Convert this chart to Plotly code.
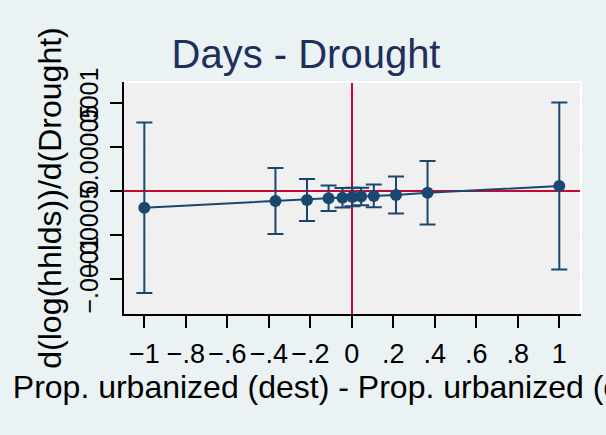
import plotly.graph_objects as go

# Binned difference in urbanization share (destination minus origin)
urb_diff = [-1.0, -0.368, -0.216, -0.112, -0.045, 0.003, 0.045, 0.106, 0.213, 0.365, 1.0]
# Estimated marginal effect d(log(hhlds))/d(Drought)
coef = [-0.0000193, -0.0000117, -0.0000106, -0.0000086, -0.0000080, -0.0000072,
        -0.0000066, -0.0000060, -0.0000049, -0.0000023, 0.0000053]
# Half-width of the confidence interval
ci_half = [0.0000968, 0.0000375, 0.0000239, 0.0000146, 0.0000110, 0.0000105,
           0.0000100, 0.0000129, 0.0000210, 0.0000360, 0.0000949]

x_tickvals = [-1, -0.8, -0.6, -0.4, -0.2, 0, 0.2, 0.4, 0.6, 0.8, 1]
x_ticktext = ["\u22121", "\u2212.8", "\u2212.6", "\u2212.4", "\u2212.2", "0", ".2", ".4", ".6", ".8", "1"]
y_tickvals = [-0.0001, -0.00005, 0, 0.00005, 0.0001]
y_ticktext = ["\u2212.0001", "\u2212.00005", "0", ".00005", ".0001"]

NAVY = "#1A476F"
RED = "#C40A32"
FONT = "Liberation Sans, Arial, sans-serif"

fig = go.Figure()
fig.add_trace(go.Scatter(
    x=urb_diff, y=coef, mode="lines+markers",
    line=dict(color=NAVY, width=2),
    marker=dict(color=NAVY, size=12),
    error_y=dict(type="data", array=ci_half, visible=True,
                 color=NAVY, thickness=2, width=8),
    showlegend=False, hoverinfo="skip",
))

# White frame on top and right of the plot region
fig.add_shape(type="line", xref="x domain", yref="y domain", x0=0, x1=1, y0=1, y1=1,
              line=dict(color="white", width=2))
fig.add_shape(type="line", xref="x domain", yref="y domain", x0=1, x1=1, y0=0, y1=1,
              line=dict(color="white", width=2))

fig.update_layout(
    width=606, height=435,
    margin=dict(l=124, r=25, t=82, b=121),
    paper_bgcolor="#EAF2F3", plot_bgcolor="#F0F0F0",
    font=dict(family=FONT, color="black"),
    title=dict(text="Days - Drought", x=306 / 606, xanchor="center",
               y=1 - 54 / 435, yanchor="middle",
               font=dict(size=40, color="#1E2F5C", family=FONT)),
    xaxis=dict(
        range=[-1.098, 1.1046], tickvals=x_tickvals, ticktext=x_ticktext,
        showgrid=False,
        # vertical reference line at zero
        zeroline=True, zerolinecolor=RED, zerolinewidth=2,
        showline=True, linecolor="black", linewidth=2,
        ticks="outside", ticklen=12, tickwidth=2, tickcolor="black",
        tickfont=dict(size=27), ticklabelstandoff=3,
        title=dict(text="Prop. urbanized (dest) - Prop. urbanized (origin)",
                   font=dict(size=32), standoff=3),
    ),
    yaxis=dict(
        range=[-0.0001401, 0.0001235], tickvals=y_tickvals, ticktext=y_ticktext,
        showgrid=True, gridcolor="#E6EEF1", gridwidth=1,
        # horizontal reference line at zero
        zeroline=True, zerolinecolor=RED, zerolinewidth=2,
        showline=True, linecolor="black", linewidth=2,
        ticks="outside", ticklen=12, tickwidth=2, tickcolor="black",
        tickangle=-90, tickfont=dict(size=25), ticklabelstandoff=2,
        title=dict(text="d(log(hhlds))/d(Drought)", font=dict(size=32), standoff=4),
    ),
    hovermode=False,
)

fig.write_html("out.html")
